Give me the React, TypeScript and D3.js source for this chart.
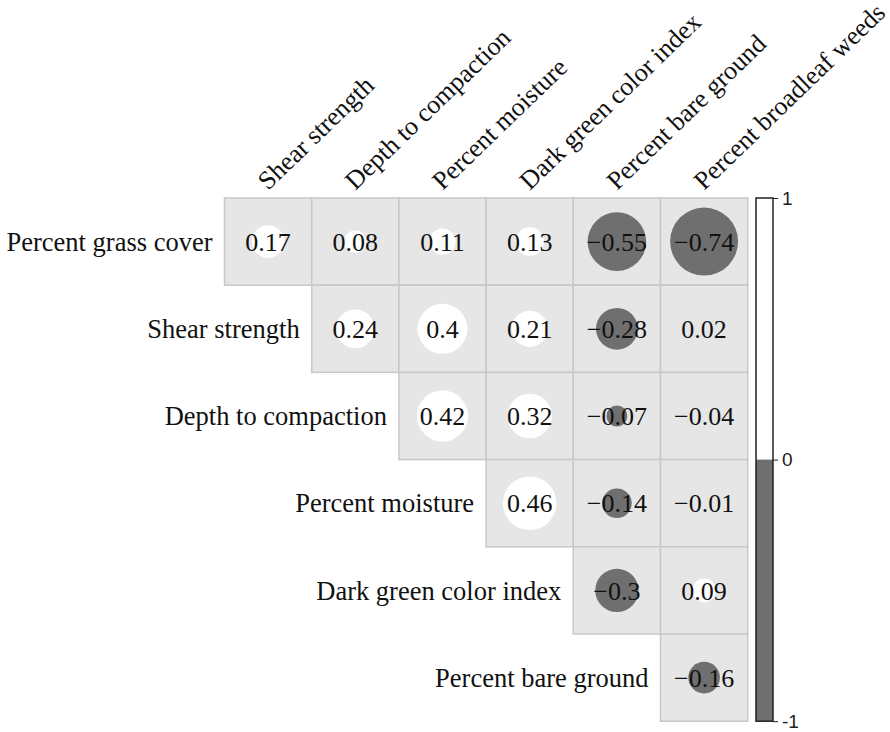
import React, { useEffect, useRef } from 'react';
import * as d3 from 'd3';

const rowLabels = [
  'Percent grass cover',
  'Shear strength',
  'Depth to compaction',
  'Percent moisture',
  'Dark green color index',
  'Percent bare ground',
];
const colLabels = [
  'Shear strength',
  'Depth to compaction',
  'Percent moisture',
  'Dark green color index',
  'Percent bare ground',
  'Percent broadleaf weeds',
];
// upper triangle, row i starts at column i
const corrRows = [
  [0.17, 0.08, 0.11, 0.13, -0.55, -0.74],
  [0.24, 0.4, 0.21, -0.28, 0.02],
  [0.42, 0.32, -0.07, -0.04],
  [0.46, -0.14, -0.01],
  [-0.3, 0.09],
  [-0.16],
];
const legendTicks = [1, 0, -1];

const SERIF = 'Liberation Serif';

export default function App() {
  const svgRef = useRef<SVGSVGElement>(null);
  const width = 890;
  const height = 732;

  useEffect(() => {
    const svg = d3.select(svgRef.current);
    svg.selectAll('*').remove();

    const left = 224.5, top = 198, cell = 87.2;

    const x = d3.scaleBand<number>()
      .domain(d3.range(colLabels.length))
      .range([left, left + cell * colLabels.length]);
    const y = d3.scaleBand<number>()
      .domain(d3.range(rowLabels.length))
      .range([top, top + cell * rowLabels.length]);
    const rScale = d3.scaleSqrt().domain([0, 1]).range([0, cell * 0.453]);

    const cells = corrRows.flatMap((row, i) =>
      row.map((v, k) => ({ i, j: i + k, v }))
    );

    const g = svg.append('g');

    // Cells
    g.selectAll('rect.cell')
      .data(cells)
      .enter()
      .append('rect')
      .attr('class', 'cell')
      .attr('x', d => x(d.j)!)
      .attr('y', d => y(d.i)!)
      .attr('width', x.bandwidth())
      .attr('height', y.bandwidth())
      .attr('fill', '#e6e6e6')
      .attr('stroke', '#c8c8c8')
      .attr('stroke-width', 1.5);

    // Circles (near-zero values not drawn)
    g.selectAll('circle')
      .data(cells.filter(d => Math.abs(d.v) >= 0.05))
      .enter()
      .append('circle')
      .attr('cx', d => x(d.j)! + x.bandwidth() / 2)
      .attr('cy', d => y(d.i)! + y.bandwidth() / 2)
      .attr('r', d => rScale(Math.abs(d.v)))
      .attr('fill', d => (d.v >= 0 ? '#ffffff' : '#6f6f6f'));

    // Values
    g.selectAll('text.val')
      .data(cells)
      .enter()
      .append('text')
      .attr('class', 'val')
      .attr('x', d => x(d.j)! + x.bandwidth() / 2)
      .attr('y', d => y(d.i)! + y.bandwidth() / 2)
      .attr('dy', '0.35em')
      .attr('text-anchor', 'middle')
      .attr('font-family', SERIF)
      .attr('font-size', 26)
      .attr('fill', '#111')
      .text(d => String(d.v).replace('-', '\u2212'));

    // Row labels
    g.selectAll('text.row')
      .data(rowLabels)
      .enter()
      .append('text')
      .attr('class', 'row')
      .attr('x', (d, i) => x(i)! - 12)
      .attr('y', (d, i) => y(i)! + y.bandwidth() / 2)
      .attr('dy', '0.35em')
      .attr('text-anchor', 'end')
      .attr('font-family', SERIF)
      .attr('font-size', 26.5)
      .attr('fill', '#111')
      .text(d => d);

    // Column labels
    g.selectAll('text.col')
      .data(colLabels)
      .enter()
      .append('text')
      .attr('class', 'col')
      .attr('transform', (d, j) => `translate(${x(j)! + x.bandwidth() / 2},${top - 7}) rotate(-44)`)
      .attr('font-family', SERIF)
      .attr('font-size', 26)
      .attr('fill', '#111')
      .text(d => d);

    // Colour bar
    const cb = d3.scaleLinear().domain([1, -1]).range([top, top + cell * rowLabels.length]);
    const cbx = 756, cbw = 17;
    svg.append('rect')
      .attr('x', cbx).attr('y', cb(1)).attr('width', cbw).attr('height', cb(0) - cb(1))
      .attr('fill', '#ffffff');
    svg.append('rect')
      .attr('x', cbx).attr('y', cb(0)).attr('width', cbw).attr('height', cb(-1) - cb(0))
      .attr('fill', '#6f6f6f');
    svg.append('rect')
      .attr('x', cbx).attr('y', cb(1)).attr('width', cbw).attr('height', cb(-1) - cb(1))
      .attr('fill', 'none').attr('stroke', '#222').attr('stroke-width', 1.5);

    const axis = svg.append('g')
      .attr('transform', `translate(${cbx + cbw},0)`)
      .call(d3.axisRight(cb).tickValues(legendTicks).tickSize(5).tickFormat(d => String(d)))
      .attr('font-family', 'Liberation Sans')
      .attr('font-size', 19);
    axis.select('.domain').remove();
    axis.selectAll('line').attr('stroke', '#222');
    axis.selectAll('text')
      .attr('fill', '#222')
      .attr('x', 9);
  }, []);

  return (
    <svg
      ref={svgRef}
      width={width}
      height={height}
      style={{ position: 'absolute', left: 0, top: 0, background: '#fff' }}
    ></svg>
  );
}
